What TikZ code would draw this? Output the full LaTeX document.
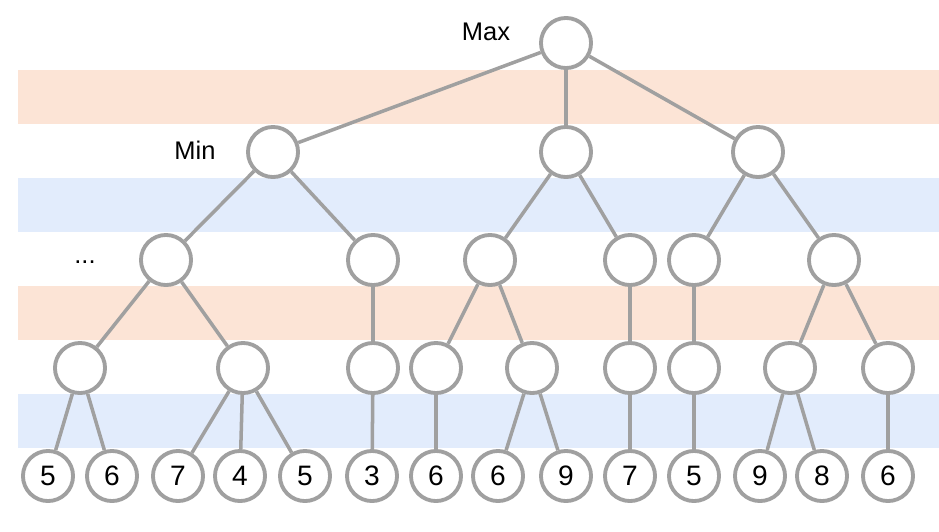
\documentclass[tikz,border=0pt]{standalone}
\usepackage{fontspec}
\setmainfont{Liberation Sans}
\usetikzlibrary{positioning}
\definecolor{bandorange}{RGB}{252,228,214}
\definecolor{bandblue}{RGB}{226,236,252}
\definecolor{linegray}{RGB}{160,160,160}
\begin{document}
\begin{tikzpicture}[x=0.02cm,y=-0.02cm,
  state/.style={circle,draw=linegray,fill=white,line width=2.2pt,
                minimum size=28.5pt,inner sep=0pt,font=\fontsize{16}{16}\selectfont},
  edge/.style={draw=linegray,line width=2pt},
  lbl/.style={font=\fontsize{14.5}{14.5}\selectfont,inner sep=0pt}]
\useasboundingbox (0,0) rectangle (939,531);
% bands
\fill[bandorange] (18,70) rectangle (939,124);
\fill[bandblue] (18,178) rectangle (939,232);
\fill[bandorange] (18,286) rectangle (939,340);
\fill[bandblue] (18,394) rectangle (939,448);
% max level
\node[state] (r) at (566,43) {};
\node[lbl] (max) at (486,32) {Max};
% min level
\node[state] (a) at (273,152) {};
\node[state] (b) at (566,152) {};
\node[state] (c) at (758,152) {};
\node[lbl] (min) at (195,150) {Min};
% third level
\node[state] (aa) at (166,260) {};
\node[state] (ab) at (373,260) {};
\node[state] (ba) at (490,260) {};
\node[state] (bb) at (630,260) {};
\node[state] (ca) at (694,260) {};
\node[state] (cb) at (834,260) {};
\node[lbl] (dots) at (85,262) {...};
% fourth level
\node[state] (aaa) at (80,368) {};
\node[state] (aab) at (243,368) {};
\node[state] (aba) at (373,368) {};
\node[state] (baa) at (436,368) {};
\node[state] (bab) at (532,368) {};
\node[state] (bba) at (630,368) {};
\node[state] (caa) at (694,368) {};
\node[state] (cba) at (790,368) {};
\node[state] (cbb) at (888,368) {};
% leaves
\node[state] (l1) at (48,476) {5};
\node[state] (l2) at (112,476) {6};
\node[state] (l3) at (178,476) {7};
\node[state] (l4) at (240,476) {4};
\node[state] (l5) at (305,476) {5};
\node[state] (l6) at (372,476) {3};
\node[state] (l7) at (436,476) {6};
\node[state] (l8) at (498,476) {6};
\node[state] (l9) at (566,476) {9};
\node[state] (l10) at (630,476) {7};
\node[state] (l11) at (694,476) {5};
\node[state] (l12) at (760,476) {9};
\node[state] (l13) at (822,476) {8};
\node[state] (l14) at (888,476) {6};
% edges
\draw[edge] (r)--(a); \draw[edge] (r)--(b); \draw[edge] (r)--(c);
\draw[edge] (a)--(aa); \draw[edge] (a)--(ab);
\draw[edge] (b)--(ba); \draw[edge] (b)--(bb);
\draw[edge] (c)--(ca); \draw[edge] (c)--(cb);
\draw[edge] (aa)--(aaa); \draw[edge] (aa)--(aab);
\draw[edge] (ab)--(aba);
\draw[edge] (ba)--(baa); \draw[edge] (ba)--(bab);
\draw[edge] (bb)--(bba);
\draw[edge] (ca)--(caa);
\draw[edge] (cb)--(cba); \draw[edge] (cb)--(cbb);
\draw[edge] (aaa)--(l1); \draw[edge] (aaa)--(l2);
\draw[edge] (aab)--(l3); \draw[edge] (aab)--(l4); \draw[edge] (aab)--(l5);
\draw[edge] (aba)--(l6);
\draw[edge] (baa)--(l7);
\draw[edge] (bab)--(l8); \draw[edge] (bab)--(l9);
\draw[edge] (bba)--(l10);
\draw[edge] (caa)--(l11);
\draw[edge] (cba)--(l12); \draw[edge] (cba)--(l13);
\draw[edge] (cbb)--(l14);
\end{tikzpicture}
\end{document}
